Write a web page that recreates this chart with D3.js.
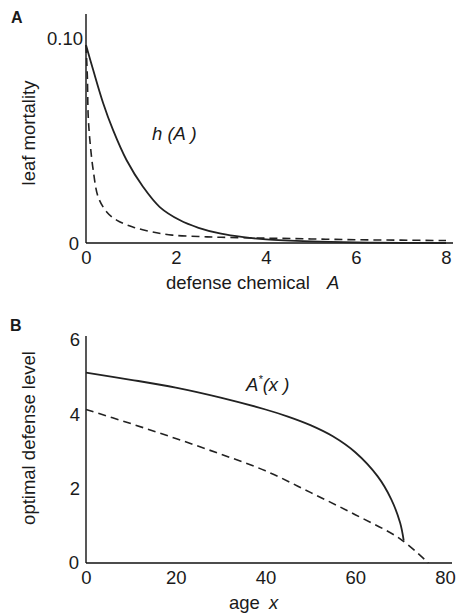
<!DOCTYPE html>
<html>
<head>
<meta charset="utf-8">
<script src="https://cdn.jsdelivr.net/npm/d3@7"></script>
<style>
  body { margin: 0; background: #fff; }
  svg text { font-family: "Liberation Sans", Arial, sans-serif; fill: #1a1a1a; }
</style>
</head>
<body>
<div id="chart"></div>
<script>
// panel A: leaf mortality vs defense chemical
const solidA = [0, 0.16, 0.38, 0.6, 0.9, 1.27, 1.64, 2.08, 2.5, 3, 3.5, 4, 5, 6, 7, 8];
const solidH = [0.0975, 0.0852, 0.069, 0.0557, 0.0409, 0.0276, 0.0177, 0.0113, 0.0075, 0.0046, 0.0029, 0.0018, 0.0008, 0.0003, 0.0001, 0];
const dashA = [0, 0.03, 0.05, 0.1, 0.16, 0.27, 0.46, 0.68, 1.04, 1.48, 1.92, 2.5, 3, 4, 5, 6, 7, 8];
const dashH = [0.0975, 0.082, 0.062, 0.0473, 0.036, 0.0227, 0.0153, 0.0113, 0.0079, 0.0054, 0.0039, 0.0032, 0.0028, 0.0024, 0.002, 0.0016, 0.0014, 0.0012];
const ticksAx = [0, 2, 4, 6, 8];

// panel B: optimal defense level vs age
const solidAge = [0, 10, 20, 30, 40, 45, 50, 55, 60, 65, 68, 70, 70.8];
const solidLevel = [5.12, 4.93, 4.72, 4.45, 4.13, 3.94, 3.71, 3.41, 2.98, 2.33, 1.72, 1.08, 0.6];
const dashAge = [0, 10, 20, 30, 40, 50, 60, 70, 76.3];
const dashLevel = [4.13, 3.75, 3.35, 2.93, 2.48, 1.9, 1.3, 0.65, 0];
const ticksBx = [0, 20, 40, 60, 80];
const ticksBy = [2, 4, 6];

const W = 457, H = 615;
const svg = d3.select("#chart").append("svg")
    .attr("width", W).attr("height", H);

const fs = 18.5;

// ---------- panel A ----------
const xA = d3.scaleLinear().domain([0, 8]).range([86, 446]);
const yA = d3.scaleLinear().domain([0, 0.1]).range([243, 40]);

const gA = svg.append("g");

// axes lines
gA.append("line")
    .attr("x1", xA(0)).attr("x2", xA(0))
    .attr("y1", yA(0)).attr("y2", 14)
    .attr("stroke", "#111").attr("stroke-width", 1.4);
gA.append("line")
    .attr("x1", xA(0)).attr("x2", 453)
    .attr("y1", yA(0)).attr("y2", yA(0))
    .attr("stroke", "#111").attr("stroke-width", 1.6);

const axA = d3.axisBottom(xA).tickValues(ticksAx).tickSize(0).tickPadding(8).tickFormat(d3.format("d"));
gA.append("g").attr("transform", `translate(0,${yA(0)})`).call(axA)
    .call(g => g.select(".domain").remove())
    .selectAll("text").attr("font-size", fs).attr("font-family", null);

gA.append("text").attr("x", 83).attr("y", yA(0.1) - 1).attr("dy", "0.35em")
    .attr("text-anchor", "end").attr("font-size", fs).text("0.10");
gA.append("text").attr("x", 79).attr("y", yA(0) + 1).attr("dy", "0.35em")
    .attr("text-anchor", "end").attr("font-size", fs).text("0");

const lineA = d3.line().curve(d3.curveCatmullRom.alpha(0.5))
    .x(d => xA(d[0])).y(d => yA(d[1]));

gA.append("path")
    .attr("d", lineA(d3.zip(solidA, solidH)))
    .attr("fill", "none").attr("stroke", "#222").attr("stroke-width", 1.8);
gA.append("path")
    .attr("d", lineA(d3.zip(dashA, dashH)))
    .attr("fill", "none").attr("stroke", "#222").attr("stroke-width", 1.6)
    .attr("stroke-dasharray", "8,5");

gA.append("text").attr("x", 11).attr("y", 23)
    .attr("font-size", 16).attr("font-weight", "bold").text("A");

gA.append("text")
    .attr("transform", `translate(35,133) rotate(-90)`)
    .attr("text-anchor", "middle").attr("font-size", fs).text("leaf mortality");

const xlabA = gA.append("text").attr("x", 166).attr("y", 289).attr("font-size", fs);
xlabA.append("tspan").text("defense chemical");
xlabA.append("tspan").attr("x", 327).attr("font-style", "italic").text("A");

gA.append("text").attr("x", 152).attr("y", 140)
    .attr("font-size", fs).attr("font-style", "italic").text("h (A )");

// ---------- panel B ----------
const xB = d3.scaleLinear().domain([0, 80]).range([86, 445]);
const yB = d3.scaleLinear().domain([0, 6]).range([563, 340]);

const gB = svg.append("g");

gB.append("line")
    .attr("x1", xB(0)).attr("x2", xB(0))
    .attr("y1", yB(0)).attr("y2", 336)
    .attr("stroke", "#111").attr("stroke-width", 1.4);
gB.append("line")
    .attr("x1", xB(0)).attr("x2", 452)
    .attr("y1", yB(0)).attr("y2", yB(0))
    .attr("stroke", "#111").attr("stroke-width", 1.6);

const axBx = d3.axisBottom(xB).tickValues(ticksBx).tickSize(0).tickPadding(8).tickFormat(d3.format("d"));
gB.append("g").attr("transform", `translate(0,${yB(0)})`).call(axBx)
    .call(g => g.select(".domain").remove())
    .selectAll("text").attr("font-size", fs).attr("font-family", null);

const axBy = d3.axisLeft(yB).tickValues(ticksBy).tickSize(0).tickPadding(6).tickFormat(d3.format("d"));
gB.append("g").attr("transform", `translate(${xB(0)},0)`).call(axBy)
    .call(g => g.select(".domain").remove())
    .selectAll("text").attr("font-size", fs).attr("font-family", null);

gB.append("text").attr("x", 79).attr("y", yB(0)).attr("dy", "0.35em")
    .attr("text-anchor", "end").attr("font-size", fs).text("0");

const lineB = d3.line().curve(d3.curveCatmullRom.alpha(0.5))
    .x(d => xB(d[0])).y(d => yB(d[1]));

gB.append("path")
    .attr("d", lineB(d3.zip(solidAge, solidLevel)))
    .attr("fill", "none").attr("stroke", "#222").attr("stroke-width", 1.8);
gB.append("path")
    .attr("d", lineB(d3.zip(dashAge, dashLevel)))
    .attr("fill", "none").attr("stroke", "#222").attr("stroke-width", 1.6)
    .attr("stroke-dasharray", "8,5");

gB.append("text").attr("x", 10).attr("y", 331)
    .attr("font-size", 16).attr("font-weight", "bold").text("B");

gB.append("text")
    .attr("transform", `translate(35,438) rotate(-90)`)
    .attr("text-anchor", "middle").attr("font-size", fs).text("optimal defense level");

const xlabB = gB.append("text").attr("x", 229).attr("y", 609).attr("font-size", fs);
xlabB.append("tspan").text("age");
xlabB.append("tspan").attr("x", 269).attr("font-style", "italic").text("x");

const lab = gB.append("text").attr("x", 246).attr("y", 391)
    .attr("font-size", fs).attr("font-style", "italic");
lab.append("tspan").text("A");
lab.append("tspan").attr("font-size", 11).attr("dy", -8).text("*");
lab.append("tspan").attr("dy", 8).text("(x )");
</script>
</body>
</html>
